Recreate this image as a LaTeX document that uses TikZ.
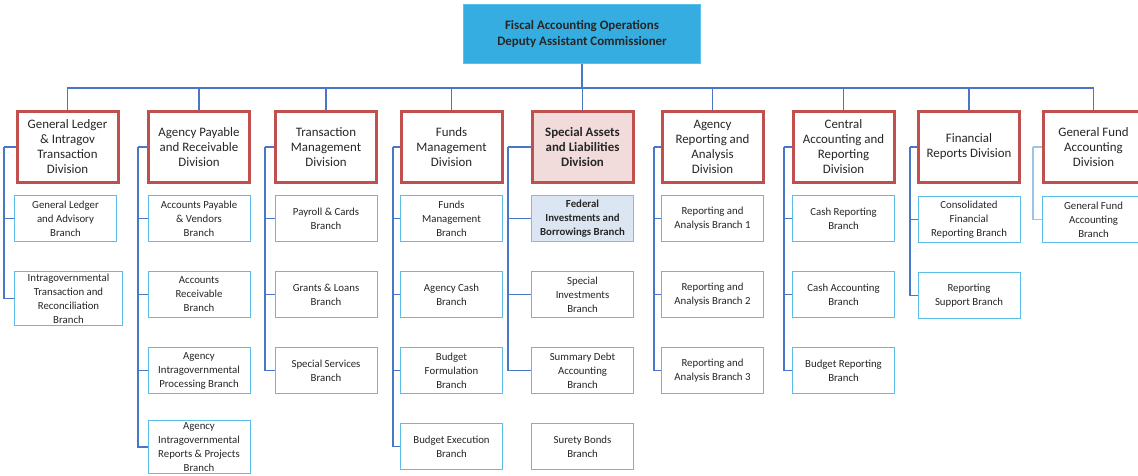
\documentclass[tikz,border=0pt]{standalone}
\usepackage{fontspec}
\setmainfont{Carlito}
\usetikzlibrary{positioning}

\definecolor{headfill}{RGB}{53,173,224}
\definecolor{headline}{RGB}{91,192,235}
\definecolor{divred}{RGB}{192,80,77}
\definecolor{divpink}{RGB}{242,220,219}
\definecolor{brline}{RGB}{91,190,232}
\definecolor{fedfill}{RGB}{220,230,242}
\definecolor{fedline}{RGB}{149,179,215}
\definecolor{linkblue}{RGB}{72,118,200}
\definecolor{linklight}{RGB}{157,195,230}
\definecolor{txt}{RGB}{38,38,38}

\begin{document}
\begin{tikzpicture}[x=1pt,y=-1pt,node distance=29pt,
  head/.style={rectangle,fill=headfill,draw=headline,line width=1pt,minimum width=237pt,minimum height=59pt,
    align=center,font=\fontsize{12.9}{16}\selectfont\bfseries,text=txt},
  division/.style={rectangle,draw=divred,fill=white,line width=3pt,minimum width=101pt,minimum height=71pt,
    align=center,inner sep=1pt,font=\fontsize{12.9}{15}\selectfont,text=txt},
  branch/.style={rectangle,draw=brline,fill=white,line width=1pt,minimum width=102pt,minimum height=46pt,
    align=center,inner sep=2pt,font=\fontsize{10.8}{14}\selectfont,text=txt},
  link/.style={draw=linkblue,line width=1.2pt},
  bus/.style={draw=linkblue,line width=1.8pt}]
  \useasboundingbox (0,0) rectangle (1138,475);

  \node[head] (fao) at (582,34) {Fiscal Accounting Operations\\Deputy Assistant Commissioner};
  \coordinate (top) at (582,88);

  % divisions
  \node[division] (gl) at (67.5,147) {General Ledger\\\& Intragov\\Transaction\\Division};
  \node[division] (ap) at (199,147) {Agency Payable\\and Receivable\\Division};
  \node[division] (tm) at (326,147) {Transaction\\Management\\Division};
  \node[division] (fm) at (451.5,147) {Funds\\Management\\Division};
  \node[division,fill=divpink,font=\fontsize{12.9}{15}\selectfont\bfseries] (sa) at (582.5,147) {Special Assets\\and Liabilities\\Division};
  \node[division] (ar) at (712.5,147) {Agency\\Reporting and\\Analysis\\Division};
  \node[division] (ca) at (843.5,147) {Central\\Accounting and\\Reporting\\Division};
  \node[division] (fr) at (969,147) {Financial\\Reports Division};
  \node[division] (gf) at (1093.5,147) {General Fund\\Accounting\\Division};

  % branches
  \node[branch] (gl1) [below=11pt of gl, xshift=-2pt] {General Ledger\\and Advisory\\Branch};
  \node[branch,minimum width=108pt,xshift=3pt] (gl2) [below=of gl1] {Intragovernmental\\Transaction and\\Reconciliation\\Branch};

  \node[branch] (ap1) [below=11pt of ap] {Accounts Payable\\\& Vendors\\Branch};
  \node[branch] (ap2) [below=of ap1] {Accounts\\Receivable\\Branch};
  \node[branch] (ap3) [below=of ap2] {Agency\\Intragovernmental\\Processing Branch};
  \node[branch] (ap4) [below=26pt of ap3] {Agency\\Intragovernmental\\Reports \& Projects\\Branch};

  \node[branch] (tm1) [below=11pt of tm] {Payroll \& Cards\\Branch};
  \node[branch] (tm2) [below=of tm1] {Grants \& Loans\\Branch};
  \node[branch] (tm3) [below=of tm2] {Special Services\\Branch};

  \node[branch] (fm1) [below=11pt of fm] {Funds\\Management\\Branch};
  \node[branch] (fm2) [below=of fm1] {Agency Cash\\Branch};
  \node[branch] (fm3) [below=of fm2] {Budget\\Formulation\\Branch};
  \node[branch] (fm4) [below=of fm3] {Budget Execution\\Branch};

  \node[branch,fill=fedfill,draw=fedline,font=\fontsize{10.8}{14}\selectfont\bfseries] (sa1) [below=11pt of sa] {Federal\\Investments and\\Borrowings Branch};
  \node[branch] (sa2) [below=of sa1] {Special\\Investments\\Branch};
  \node[branch] (sa3) [below=of sa2] {Summary Debt\\Accounting\\Branch};
  \node[branch] (sa4) [below=of sa3] {Surety Bonds\\Branch};

  \node[branch] (ar1) [below=11pt of ar] {Reporting and\\Analysis Branch 1};
  \node[branch] (ar2) [below=of ar1] {Reporting and\\Analysis Branch 2};
  \node[branch] (ar3) [below=of ar2] {Reporting and\\Analysis Branch 3};

  \node[branch] (ca1) [below=11pt of ca] {Cash Reporting\\Branch};
  \node[branch] (ca2) [below=of ca1] {Cash Accounting\\Branch};
  \node[branch] (ca3) [below=of ca2] {Budget Reporting\\Branch};

  \node[branch] (fr1) [below=12pt of fr] {Consolidated\\Financial\\Reporting Branch};
  \node[branch] (fr2) [below=of fr1] {Reporting\\Support Branch};

  \node[branch] (gf1) [below=12pt of gf] {General Fund\\Accounting\\Branch};

  % top bus
  \draw[bus] (fao) -- (top);
  \foreach \d in {gl,ap,tm,fm,sa,ar,ca,fr,gf}
    \draw[bus] (top) -| (\d.north);

  % column rails
  \coordinate (glv) at (4,147);
  \coordinate (apv) at (138,147);
  \coordinate (tmv) at (265,147);
  \coordinate (fmv) at (393,147);
  \coordinate (sav) at (508,147);
  \coordinate (arv) at (654,147);
  \coordinate (cav) at (784,147);
  \coordinate (frv) at (910,147);
  \coordinate (gfv) at (1033,147);

  \draw[link] (glv) -- (gl.west);
  \foreach \b in {gl1,gl2} \draw[link] (glv) |- (\b.west);
  \draw[link] (apv) -- (ap.west);
  \foreach \b in {ap1,ap2,ap3,ap4} \draw[link] (apv) |- (\b.west);
  \draw[link] (tmv) -- (tm.west);
  \foreach \b in {tm1,tm2,tm3} \draw[link] (tmv) |- (\b.west);
  \draw[link] (fmv) -- (fm.west);
  \foreach \b in {fm1,fm2,fm3,fm4} \draw[link] (fmv) |- (\b.west);
  \draw[link] (sav) -- (sa.west);
  \foreach \b in {sa1,sa2,sa3} \draw[link] (sav) |- (\b.west);
  \draw[link] (arv) -- (ar.west);
  \foreach \b in {ar1,ar2,ar3} \draw[link] (arv) |- (\b.west);
  \draw[link] (cav) -- (ca.west);
  \foreach \b in {ca1,ca2,ca3} \draw[link] (cav) |- (\b.west);
  \draw[link] (frv) -- (fr.west);
  \foreach \b in {fr1,fr2} \draw[link] (frv) |- (\b.west);
  \draw[link,draw=linklight] (gfv) -- (gf.west);
  \draw[link,draw=linklight] (gfv) |- (gf1.west);
\end{tikzpicture}
\end{document}
